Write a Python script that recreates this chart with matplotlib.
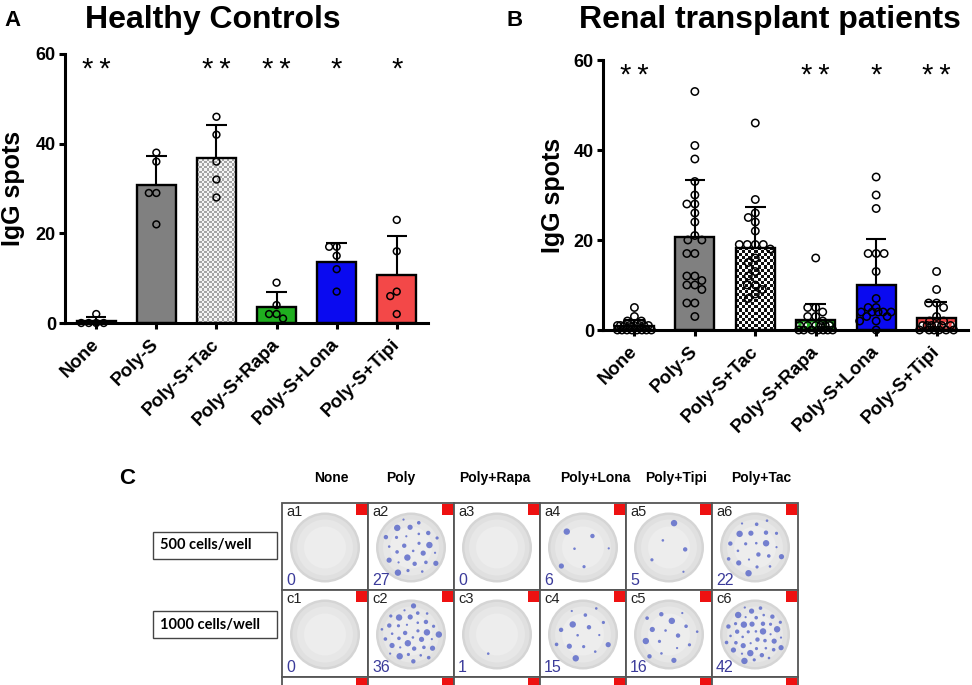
import numpy as np
import matplotlib.pyplot as plt
from matplotlib.colors import ListedColormap
from matplotlib.patches import Rectangle, Circle

plt.rcParams['font.family'] = ['Liberation Sans', 'DejaVu Sans']
plt.rcParams['hatch.linewidth'] = 1.2

NARROW = ['Liberation Sans Narrow', 'Liberation Sans', 'DejaVu Sans']

groups = ['None', 'Poly-S', 'Poly-S+Tac', 'Poly-S+Rapa', 'Poly-S+Lona', 'Poly-S+Tipi']

# A - healthy controls, IgG spots per donor
hc_none = [2, 0, 0, 0, 0]
hc_poly = [38, 36, 29, 29, 22]
hc_tac = [46, 42, 36, 32, 28]
hc_rapa = [9, 4, 2, 2, 1]
hc_lona = [17, 17, 15, 12, 7]
hc_tipi = [23, 16, 7, 6, 2]
hc_stars = ['**', '', '**', '**', '*', '*']

# B - renal transplant patients
rt_none = [5, 3, 2, 2, 1, 1, 1, 1, 1, 1, 1, 1, 0, 0, 0, 0, 0, 0, 0, 0]
rt_poly = [53, 41, 38, 33, 30, 28, 28, 26, 24, 21, 20, 20, 17, 17, 12, 12, 11, 10, 10, 9, 6, 6, 3]
rt_tac = [46, 29, 26, 25, 24, 22, 19, 19, 19, 19, 18, 16, 15, 13, 12, 10, 10, 9, 8, 7]
rt_rapa = [16, 5, 5, 4, 3, 3, 2, 1, 1, 1, 1, 1, 1, 0, 0, 0, 0, 0, 0, 0]
rt_lona = [34, 30, 27, 17, 17, 17, 13, 7, 5, 5, 4, 4, 4, 4, 4, 3, 3, 2, 2, 0]
rt_tipi = [13, 9, 6, 6, 5, 3, 2, 2, 1, 1, 1, 1, 1, 1, 0, 0, 0, 0, 0, 0]
rt_stars = ['**', '', '', '**', '*', '**']

# C - ELISpot wells
well_headers = ['None', 'Poly', 'Poly+Rapa', 'Poly+Lona', 'Poly+Tipi', 'Poly+Tac']
row_labels = ['500 cells/well', '1000 cells/well']
well_ids = [['a1', 'a2', 'a3', 'a4', 'a5', 'a6'],
            ['c1', 'c2', 'c3', 'c4', 'c5', 'c6']]
spot_counts = [[0, 27, 0, 6, 5, 22],
               [0, 36, 1, 15, 16, 42]]

fig = plt.figure(figsize=(9.72, 6.85), dpi=100)
W, H = 972, 685

# full-figure pixel axes for panel C and free text
axc = fig.add_axes([0, 0, 1, 1])
axc.set_xlim(0, W)
axc.set_ylim(H, 0)
axc.axis('off')


def px_axes(left, top, right, bottom):
    return fig.add_axes([left / W, 1 - bottom / H, (right - left) / W, (bottom - top) / H])


def swarm(ax, xc, vals, d_px, half_px):
    tr = ax.transData
    placed, out = [], []
    cands = sorted(np.arange(-half_px, half_px + 0.01, 0.5), key=abs)
    for v in sorted(vals, reverse=True):
        px, py = tr.transform((xc, v))
        best, best_d = 0.0, -1
        for c in cands:
            md = min([np.hypot(px + c - qx, py - qy) for qx, qy in placed], default=1e9)
            if md >= d_px:
                best = c
                break
            if md > best_d:
                best_d, best = md, c
        placed.append((px + best, py))
        out.append(tr.inverted().transform((px + best, py)))
    return np.array(out)


def checker(ax, xc, h, bw, c1, c2, cell_px, z):
    x0 = xc - bw / 2
    (p0x, p0y), (p1x, p1y) = ax.transData.transform([(x0, 0), (x0 + bw, h)])
    nx = max(1, int(round((p1x - p0x) / cell_px)))
    ny = max(1, int(round((p1y - p0y) / cell_px)))
    grid = np.add.outer(np.arange(ny), np.arange(nx)) % 2
    ax.imshow(grid, cmap=ListedColormap([c1, c2]), extent=(x0, x0 + bw, 0, h),
              origin='lower', aspect='auto', interpolation='nearest', zorder=z)


def panel(ax, pts, stars, styles, d_px, msize):
    x = np.arange(len(groups))
    xlim = (-0.52, len(groups) - 0.48)
    ax.set_xlim(*xlim)
    ax.set_ylim(0, 60)
    bw = 0.65
    means = [np.mean(p) for p in pts]
    sds = [np.std(p, ddof=1) for p in pts]
    for i, st in enumerate(styles):
        if st[0] == 'solid':
            ax.bar(x[i], means[i], bw, color=st[1], edgecolor='none', zorder=2)
        elif st[0] == 'checker':
            checker(ax, x[i], means[i], bw, st[1], st[2], st[3], 2.1)
        elif st[0] == 'dots':
            ax.bar(x[i], means[i], bw, color=st[1], edgecolor='none', zorder=2)
            ax.bar(x[i], means[i], bw, facecolor='none', edgecolor='white',
                   hatch='oo', linewidth=0, zorder=2.2)
        ax.bar(x[i], means[i], bw, facecolor='none', edgecolor='black', linewidth=1.7, zorder=2.5)
    ax.set_xlim(*xlim)
    ax.set_ylim(0, 60)
    ax.vlines(x, means, np.add(means, sds), color='black', linewidth=1.5, zorder=3)
    ax.hlines(np.add(means, sds), x - 0.17, x + 0.17, color='black', linewidth=1.5, zorder=3)
    for i, p in enumerate(pts):
        xy = swarm(ax, x[i], p, d_px, 17)
        ax.scatter(xy[:, 0], xy[:, 1], s=msize, facecolors='none', edgecolors='black',
                   linewidths=1.1, zorder=4, clip_on=False)
    for i, s in enumerate(stars):
        if s:
            ax.text(x[i], 56.5, s.replace('**', '*\u2009*'), ha='center', va='center', fontsize=21)
    for sp in ['top', 'right']:
        ax.spines[sp].set_visible(False)
    for sp in ['left', 'bottom']:
        ax.spines[sp].set_linewidth(2.2)
    ax.set_yticks([0, 20, 40, 60])
    ax.set_xticks(x)
    ax.set_xticklabels(groups, rotation=45, ha='right', va='center',
                       rotation_mode='anchor', fontweight='bold', fontsize=13.5)
    ax.tick_params(axis='y', length=4.5, width=2.2, labelsize=13, pad=2)
    ax.tick_params(axis='x', length=4.5, width=2.2, pad=9)
    for lab in ax.get_yticklabels():
        lab.set_fontweight('bold')
    ax.set_ylabel('IgG spots', fontsize=18, fontweight='bold')
    ax.patch.set_alpha(0)


axA = px_axes(65, 54, 428, 323)
stylesA = [('solid', 'white'), ('solid', '#808080'), ('checker', '#f4f4f4', '#a4a4a4', 2.5),
           ('solid', '#1fae1f'), ('solid', '#0a0af0'), ('solid', '#f34848')]
panel(axA, [hc_none, hc_poly, hc_tac, hc_rapa, hc_lona, hc_tipi], hc_stars, stylesA, 7.5, 24)
axA.yaxis.set_label_coords(-0.11, 0.5)

axB = px_axes(603, 60, 968, 330)
stylesB = [('solid', 'white'), ('solid', '#808080'), ('checker', '#ffffff', '#111111', 3),
           ('dots', '#22a822'), ('solid', '#0a0af0'), ('dots', '#ee4646')]
panel(axB, [rt_none, rt_poly, rt_tac, rt_rapa, rt_lona, rt_tipi], rt_stars, stylesB, 8, 28)
axB.yaxis.set_label_coords(-0.104, 0.5)

# titles and panel letters
axc.text(12, 20, 'A', fontsize=16, fontweight='bold', family=NARROW, ha='center', va='center')
axc.text(515, 20, 'B', fontsize=16, fontweight='bold', family=NARROW, ha='center', va='center')
axc.text(213, 20, 'Healthy Controls', fontsize=23, fontweight='bold', family=NARROW,
         ha='center', va='center')
axc.text(770, 20, 'Renal transplant patients', fontsize=23, fontweight='bold', family=NARROW,
         ha='center', va='center')

# panel C
axc.text(127, 478, 'C', fontsize=16, fontweight='bold', family=NARROW, ha='center', va='center')
header_x = [331, 401, 495, 595, 676, 761]
for hx, h in zip(header_x, well_headers):
    axc.text(hx, 478, h, fontsize=10, fontweight='bold', family=NARROW, ha='center', va='center')

gx0, gy0, cw, ch = 282, 503, 86, 87
box_y = [532, 611]
for by, lab in zip(box_y, row_labels):
    axc.add_patch(Rectangle((153, by), 124, 27, facecolor='white', edgecolor='#444444', linewidth=1))
    axc.text(160, by + 13.5, lab, fontsize=10.5, fontweight='bold', family=['Lato', 'DejaVu Sans'],
             ha='left', va='center')

spot_r = [1.3, 2.2, 1.6, 3.2, 1.1, 2.6, 1.8]
for r in range(3):
    for c in range(6):
        x0 = gx0 + c * cw
        y0 = gy0 + r * ch
        axc.add_patch(Rectangle((x0, y0), cw, ch, facecolor='white', edgecolor='#555555',
                                linewidth=1.3))
        axc.add_patch(Rectangle((x0 + cw - 12, y0 + 1), 11, 11, facecolor='#ee1111', edgecolor='none'))
        if r >= len(well_ids):
            continue
        cx, cy, R = x0 + cw / 2, y0 + ch / 2 + 1, 35
        for frac, col in [(1.0, '#d5d5d5'), (0.93, '#e0e0e0'), (0.8, '#e7e7e7'), (0.6, '#ededed')]:
            axc.add_patch(Circle((cx, cy), R * frac, facecolor=col, edgecolor='none'))
        n = spot_counts[r][c]
        for k in range(n):
            rr = 0.85 * R * np.sqrt((k + 0.5) / n)
            th = k * 2.39996 + c
            axc.add_patch(Circle((cx + rr * np.cos(th), cy + rr * np.sin(th)), spot_r[k % 7],
                                 facecolor='#4b5bc6', edgecolor='none', alpha=0.75))
        axc.text(x0 + 4, y0 + 2, well_ids[r][c], fontsize=10.5, color='#222222', ha='left', va='top')
        axc.text(x0 + 4, y0 + ch - 2, str(n), fontsize=11.5, color='#3b3b9a', ha='left', va='bottom')

fig.savefig('out.png', dpi=100)
